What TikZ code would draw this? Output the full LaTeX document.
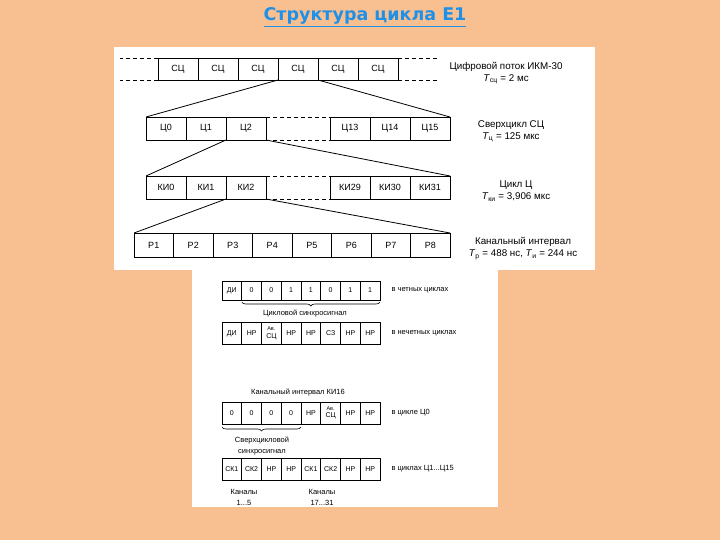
\documentclass[tikz,border=0pt]{standalone}
\usepackage{fontspec}
\setmainfont{Liberation Sans}
\newfontfamily\titlefont{DejaVu Sans}
\usetikzlibrary{decorations.pathreplacing}
\definecolor{bgpeach}{RGB}{248,192,144}
\definecolor{titleblue}{RGB}{30,144,232}
\begin{document}
\begin{tikzpicture}[x=1pt,y=-1pt,
  cell/.style={draw, line width=0.9pt, inner sep=0pt, outer sep=0pt, anchor=center, font=\fontsize{9}{10}\selectfont},
  topcell/.style={cell, minimum width=40pt, minimum height=23pt},
  pcell/.style={cell, minimum width=39.5pt, minimum height=24pt},
  bitcell/.style={cell, line width=0.7pt, minimum width=19.75pt, minimum height=22pt, font=\fontsize{7}{7.5}\selectfont},
  dashline/.style={line width=0.9pt, dash pattern=on 4pt off 3pt},
  fan/.style={line width=0.8pt},
  rlabel/.style={align=center, font=\fontsize{9.8}{12}\selectfont},
  blabel/.style={anchor=west, font=\fontsize{7.5}{8}\selectfont},
  clabel/.style={align=center, font=\fontsize{7.5}{11}\selectfont},
  brace/.style={decorate, decoration={brace, mirror, amplitude=4pt}, line width=0.6pt}
]
\fill[bgpeach] (0,0) rectangle (720,540);
\useasboundingbox (0,0) rectangle (720,540);
\fill[white] (114,47) rectangle (595,270);
\fill[white] (192,270) rectangle (498,507);

\node[font=\titlefont\bfseries\fontsize{17.5}{20}\selectfont, text=titleblue] (title) at (365,17) {\underline{Структура цикла E1}};

% row 1
\foreach \i in {1,...,6} {
  \node[topcell, minimum height=22pt] (a\i) at ({138+40*\i},69) {СЦ};
}
\draw[dashline] (a1.north west) -- ++(-38,0) coordinate (a1tl);
\draw[dashline] (a1.south west) -- ++(-38,0) coordinate (a1bl);
\draw[dashline] (a6.north east) -- ++(39,0) coordinate (a6tr);
\draw[dashline] (a6.south east) -- ++(39,0) coordinate (a6br);
\node[rlabel] (l1) at (506,73) {Цифровой поток ИКМ-30\\\textit{T}\textsubscript{сц} = 2 мс};

% row 2
\foreach \i/\x/\t in {1/166/Ц0, 2/206/Ц1, 3/246/Ц2, 4/350/Ц13, 5/390/Ц14, 6/430/Ц15} {
  \node[topcell] (b\i) at (\x,128.5) {\t};
}
\draw[dashline] (b3.north east) -- (b4.north west);
\draw[dashline] (b3.south east) -- (b4.south west);
\node[rlabel] (l2) at (511,131.5) {Сверхцикл СЦ\\\textit{T}\textsubscript{ц} = 125 мкс};

% row 3
\foreach \i/\x/\t in {1/166/КИ0, 2/206/КИ1, 3/246/КИ2, 4/350/КИ29, 5/390/КИ30, 6/430/КИ31} {
  \node[topcell] (c\i) at (\x,187.5) {\t};
}
\draw[dashline] (c3.north east) -- (c4.north west);
\draw[dashline] (c3.south east) -- (c4.south west);
\node[rlabel] (l3) at (516,191) {Цикл Ц\\\textit{T}\textsubscript{ки} = 3,906 мкс};

% row 4
\foreach \i in {1,...,8} {
  \node[pcell] (d\i) at ({114.25+39.5*\i},245) {P\i};
}
\node[rlabel] (l4) at (523,248.5) {Канальный интервал\\\textit{T}\textsubscript{р} = 488 нс, \textit{T}\textsubscript{и} = 244 нс};

% fans
\draw[fan] (a4.south west) -- (b1.north west);
\draw[fan] (a4.south east) -- (b6.north east);
\draw[fan] (b3.south west) -- (c1.north west);
\draw[fan] (b3.south east) -- (c6.north east);
\draw[fan] (c3.south west) -- (d1.north west);
\draw[fan] (c3.south east) -- (d8.north east);

% bottom row A
\foreach \i/\t in {1/ДИ, 2/0, 3/0, 4/1, 5/1, 6/0, 7/1, 8/1} {
  \node[bitcell, minimum height=19pt] (e\i) at ({212.125+19.75*\i},290.5) {\t};
}
\node[blabel] (le) at (388,290.5) {в четных циклах};
\draw[brace] ([yshift=-2pt]e2.south west) -- ([yshift=-2pt]e8.south east);
\node[clabel] (lbe) at (305,313.5) {Цикловой синхросигнал};

% bottom row B
\foreach \i/\t in {1/ДИ, 2/НР, 3/{\fontsize{5.5}{6}\selectfont Ав.\\СЦ}, 4/НР, 5/НР, 6/СЗ, 7/НР, 8/НР} {
  \node[bitcell, align=center] (f\i) at ({212.125+19.75*\i},333.5) {\t};
}
\node[blabel] (lf) at (388,333.5) {в нечетных циклах};

% bottom row C
\node[clabel] (lki) at (298,392.5) {Канальный интервал КИ16};
\foreach \i/\t in {1/0, 2/0, 3/0, 4/0, 5/НР, 6/{\fontsize{5.5}{6}\selectfont Ав.\\СЦ}, 7/НР, 8/НР} {
  \node[bitcell, align=center] (g\i) at ({212.125+19.75*\i},413) {\t};
}
\node[blabel] (lg) at (388,413) {в цикле Ц0};
\draw[brace] ([yshift=-3pt]g1.south west) -- ([yshift=-3pt]g4.south east);
\node[clabel] (lbg) at (262,446) {Сверхцикловой\\синхросигнал};

% bottom row D
\foreach \i/\t in {1/СК1, 2/СК2, 3/НР, 4/НР, 5/СК1, 6/СК2, 7/НР, 8/НР} {
  \node[bitcell] (h\i) at ({212.125+19.75*\i},469) {\t};
}
\node[blabel] (lh) at (388,469) {в циклах Ц1...Ц15};
\node[clabel] (k1) at (244,497) {Каналы\\1...5};
\node[clabel] (k2) at (322,497) {Каналы\\17...31};
\end{tikzpicture}
\end{document}
